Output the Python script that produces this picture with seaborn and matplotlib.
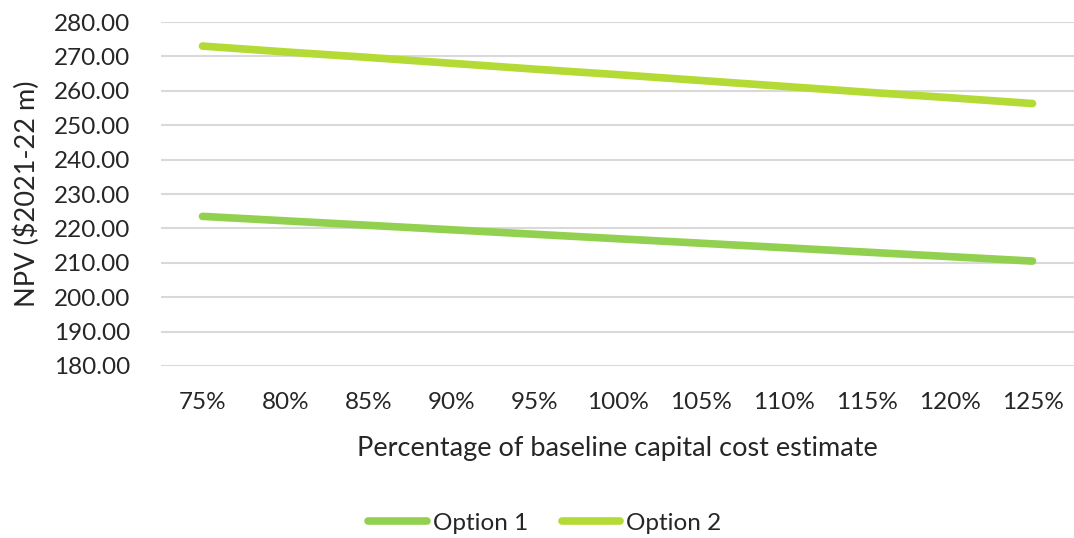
import matplotlib
matplotlib.use("Agg")
import matplotlib.pyplot as plt
from matplotlib.lines import Line2D
import seaborn as sns
import pandas as pd

# Capital cost sensitivity: NPV under each option
pct_labels = ["75%", "80%", "85%", "90%", "95%", "100%", "105%", "110%", "115%", "120%", "125%"]
option_1 = [223.5, 222.2, 220.9, 219.6, 218.3, 217.0, 215.7, 214.4, 213.1, 211.8, 210.5]
option_2 = [273.0, 271.3, 269.7, 268.0, 266.3, 264.7, 263.0, 261.3, 259.6, 258.0, 256.3]
series_names = ["Option 1", "Option 2"]
y_ticks = [180, 190, 200, 210, 220, 230, 240, 250, 260, 270, 280]

df = pd.DataFrame({
    "pct": pct_labels * 2,
    "npv": option_1 + option_2,
    "series": [series_names[0]] * len(pct_labels) + [series_names[1]] * len(pct_labels),
})
df["pos"] = list(range(len(pct_labels))) * 2

sns.set_theme(style="white")
plt.rcParams["font.family"] = ["Lato", "DejaVu Sans"]

fig = plt.figure(figsize=(10.74, 5.38), dpi=100)
ax = fig.add_axes([161 / 1074, 1 - 366 / 538, (1074 - 161) / 1074, (366 - 22) / 538])

palette = {"Option 1": "#92D050", "Option 2": "#B3DA35"}
sns.lineplot(data=df, x="pos", y="npv", hue="series", palette=palette,
             linewidth=5.5, ax=ax, legend=False, solid_capstyle="round")

text_color = "#262626"
ax.set_xlim(-0.5, len(pct_labels) - 0.5)
ax.set_ylim(180, 280)
ax.set_yticks(y_ticks)
ax.set_yticklabels([f"{v:.2f}" for v in y_ticks], fontsize=17.5, color=text_color)
ax.set_xticks(range(len(pct_labels)))
ax.set_xticklabels(pct_labels, fontsize=17.5, color=text_color)
ax.tick_params(axis="both", length=0)
ax.tick_params(axis="y", pad=22)
ax.tick_params(axis="x", pad=19)
ax.grid(axis="y", color="#D9D9D9", linewidth=1.5)
ax.set_axisbelow(True)
for s in ax.spines.values():
    s.set_visible(False)

ax.set_xlabel("Percentage of baseline capital cost estimate", fontsize=19.5, color=text_color, labelpad=16)
ax.set_ylabel("NPV ($2021-22 m)", fontsize=19.5, color=text_color, labelpad=10)

handles = [Line2D([], [], color=palette[n], linewidth=5.5, solid_capstyle="round") for n in series_names]
fig.legend(handles, series_names, loc="center", bbox_to_anchor=(545 / 1074, 1 - 523 / 538),
           ncol=2, frameon=False, fontsize=17.5, handlelength=2.4, handletextpad=0.25,
           columnspacing=1.4, labelcolor=text_color)

fig.savefig("out.png", dpi=100, facecolor="white")
